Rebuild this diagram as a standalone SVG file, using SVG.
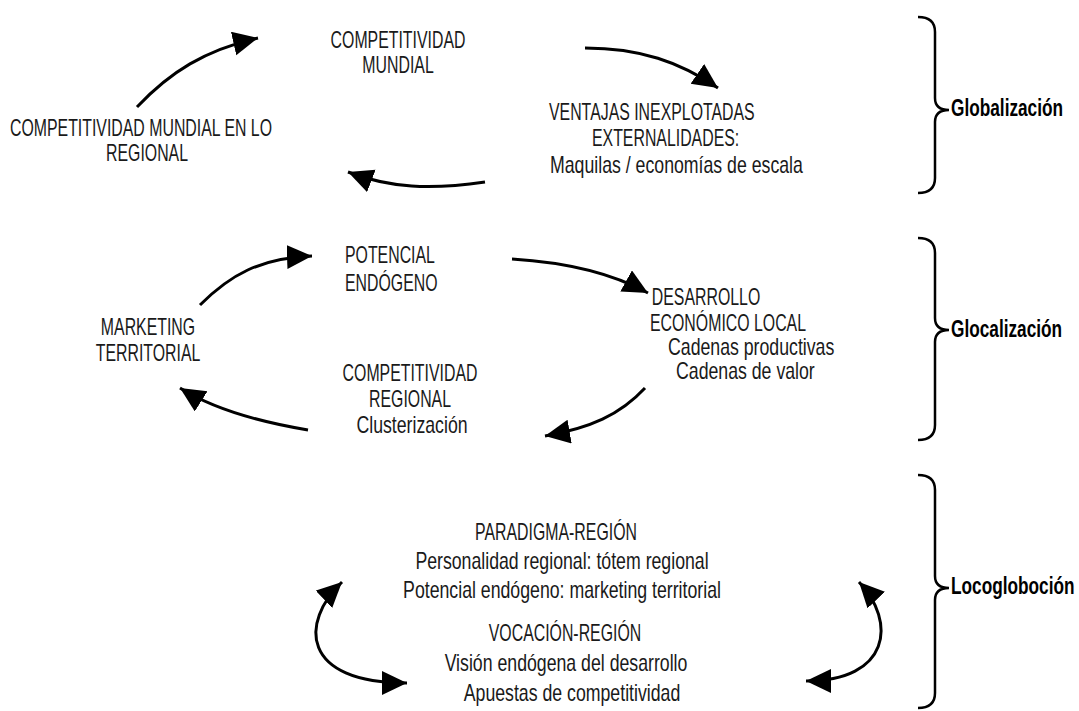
<svg xmlns="http://www.w3.org/2000/svg" width="1079" height="711" viewBox="0 0 1079 711">
<defs>
<style>
text{font-family:"Liberation Sans",Arial,sans-serif;font-size:23px;fill:#1a1a1a}
.c{text-anchor:middle}
.b{font-weight:bold;fill:#000}
.arr{fill:none;stroke:#000;stroke-width:3}
.br{fill:none;stroke:#000;stroke-width:2.5}
</style>
<marker id="ah" markerUnits="userSpaceOnUse" markerWidth="28" markerHeight="26" refX="25" refY="12" orient="auto-start-reverse">
<path d="M0,0 L25,12 L0,24 z" fill="#000"/>
</marker>
</defs>
<rect width="1079" height="711" fill="#fff"/>
<g id="n-comp-mundial"><text class="c" transform="translate(398,48) scale(0.69,1)">COMPETITIVIDAD</text><text class="c" transform="translate(398,73) scale(0.69,1)">MUNDIAL</text></g>
<g id="n-ventajas"><text transform="translate(549,120) scale(0.69,1)">VENTAJAS INEXPLOTADAS</text><text transform="translate(592,146) scale(0.69,1)">EXTERNALIDADES:</text><text transform="translate(550,173) scale(0.77,1)">Maquilas / economías de escala</text></g>
<g id="n-comp-mundial-regional"><text class="c" transform="translate(141,136) scale(0.69,1)">COMPETITIVIDAD MUNDIAL EN LO</text><text class="c" transform="translate(147,161) scale(0.69,1)">REGIONAL</text></g>
<g id="n-potencial"><text transform="translate(345,263) scale(0.69,1)">POTENCIAL</text><text transform="translate(345,291) scale(0.69,1)">ENDÓGENO</text></g>
<g id="n-desarrollo"><text class="c" transform="translate(706,305) scale(0.69,1)">DESARROLLO</text><text transform="translate(650,331) scale(0.69,1)">ECONÓMICO LOCAL</text><text transform="translate(668,355) scale(0.77,1)">Cadenas productivas</text><text transform="translate(676,379) scale(0.77,1)">Cadenas de valor</text></g>
<g id="n-marketing"><text class="c" transform="translate(148,335) scale(0.69,1)">MARKETING</text><text class="c" transform="translate(148,361) scale(0.69,1)">TERRITORIAL</text></g>
<g id="n-comp-regional"><text class="c" transform="translate(410,381) scale(0.69,1)">COMPETITIVIDAD</text><text class="c" transform="translate(410,407) scale(0.69,1)">REGIONAL</text><text class="c" transform="translate(412,433) scale(0.77,1)">Clusterización</text></g>
<g id="n-paradigma"><text class="c" transform="translate(556,540) scale(0.69,1)">PARADIGMA-REGIÓN</text><text class="c" transform="translate(562,569) scale(0.77,1)">Personalidad regional: tótem regional</text><text class="c" transform="translate(562,598) scale(0.77,1)">Potencial endógeno: marketing territorial</text></g>
<g id="n-vocacion"><text class="c" transform="translate(565,641) scale(0.69,1)">VOCACIÓN-REGIÓN</text><text class="c" transform="translate(566,671) scale(0.77,1)">Visión endógena del desarrollo</text><text class="c" transform="translate(572,701) scale(0.77,1)">Apuestas de competitividad</text></g>
<g id="n-globalizacion"><path class="br" d="M918,17 Q935,17 935,32 L935,98 Q935,110 949,110 Q935,110 935,122 L935,178 Q935,193 918,193"/><text class="b" transform="translate(951,116) scale(0.75,1)">Globalización</text></g>
<g id="n-glocalizacion"><path class="br" d="M918,238 Q935,238 935,253 L935,318 Q935,330 949,330 Q935,330 935,342 L935,425 Q935,440 918,440"/><text class="b" transform="translate(951,337) scale(0.75,1)">Glocalización</text></g>
<g id="n-locoglobocion"><path class="br" d="M918,475 Q935,475 935,490 L935,576 Q935,588 949,588 Q935,588 935,600 L935,693 Q935,708 918,708"/><text class="b" transform="translate(951,594) scale(0.75,1)">Locogloboción</text></g>
<g id="connectors">
<path class="arr" marker-end="url(#ah)" d="M137,107 C170,72 205,50 258,38"/>
<path class="arr" marker-end="url(#ah)" d="M585,48 C640,48 680,62 718,88"/>
<path class="arr" marker-end="url(#ah)" d="M485,182 C430,190 390,188 348,172"/>
<path class="arr" marker-end="url(#ah)" d="M200,305 C230,275 260,258 312,256"/>
<path class="arr" marker-end="url(#ah)" d="M512,259 C560,262 610,272 648,293"/>
<path class="arr" marker-end="url(#ah)" d="M308,430 C260,422 215,410 180,388"/>
<path class="arr" marker-end="url(#ah)" d="M645,388 C620,415 590,428 545,436"/>
<path class="arr" marker-start="url(#ah)" marker-end="url(#ah)" d="M342,582 C300,622 300,683 407,683"/>
<path class="arr" marker-start="url(#ah)" marker-end="url(#ah)" d="M859,582 C897,622 890,681 806,681"/>
</g>
</svg>
